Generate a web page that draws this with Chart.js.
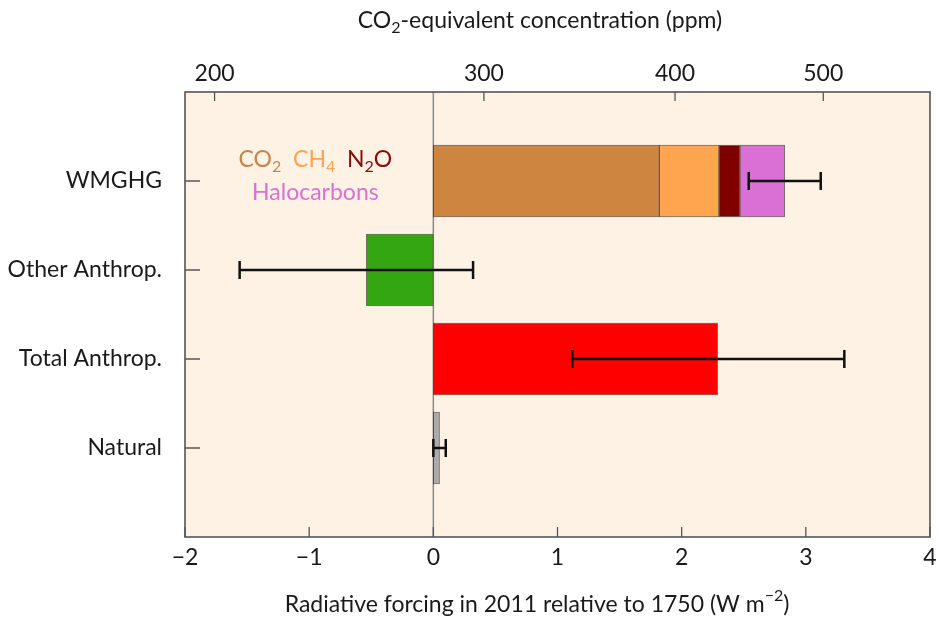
<!DOCTYPE html>
<html>
<head>
<meta charset="utf-8">
<title>Radiative forcing 2011</title>
<script src="https://cdn.jsdelivr.net/npm/chart.js@4.4.1/dist/chart.umd.min.js"></script>
<style>
  html, body { margin: 0; padding: 0; background: #ffffff; }
  #wrap { width: 938px; height: 622px; }
</style>
</head>
<body>
<div id="wrap"><canvas id="rfChart"></canvas></div>
<script>
// ---- data ---------------------------------------------------
const CATEGORIES = ["WMGHG", "Other Anthrop.", "Total Anthrop.", "Natural"];
const CAT_POS    = [1, 2, 3, 4];

// WMGHG stacked components (W m-2)
const GHG_NAMES  = ["CO2", "CH4", "N2O", "Halocarbons"];
const GHG_VALUES = [1.82, 0.48, 0.17, 0.36];
const GHG_COLORS = ["#CD853F", "#FFA54F", "#800000", "#DA70D6"];

// single bars: Other Anthrop., Total Anthrop., Natural
const SINGLE_VALUES = [-0.54, 2.29, 0.05];
const SINGLE_COLORS = ["#33A612", "#FF0000", "#ABABAB"];

// uncertainty ranges, one per category
const ERR_LOW  = [2.54, -1.56, 1.12, 0.00];
const ERR_HIGH = [3.12,  0.32, 3.31, 0.10];

// axes
const X_TICKS   = [-2, -1, 0, 1, 2, 3, 4];
const PPM_TICKS = [200, 300, 400, 500];
const PPM_REF   = 278;   // 1750 CO2-eq reference

const FONT = 'Lato, "Open Sans", sans-serif';
const INK  = "#1a1a1a";
const FS   = 23;

// forcing (W m-2) for a CO2-eq concentration, used to place the top ticks
const ppmToForcing = c => 5.35 * Math.log(c / PPM_REF);
const fmtMinus = v => (v < 0 ? "\u2212" + Math.abs(v) : String(v));

// ---- datasets -----------------------------------------------
const datasets = [];
GHG_NAMES.forEach((name, i) => {
  datasets.push({
    label: name,
    data: [{ y: CAT_POS[0], x: GHG_VALUES[i] }],
    backgroundColor: GHG_COLORS[i],
  });
});
SINGLE_VALUES.forEach((v, i) => {
  datasets.push({
    label: CATEGORIES[i + 1],
    data: [{ y: CAT_POS[i + 1], x: v }],
    backgroundColor: SINGLE_COLORS[i],
  });
});
datasets.forEach(d => {
  d.grouped       = false;
  d.barThickness  = 72;
  d.borderWidth   = 1;
  d.borderColor   = "rgba(50,40,30,0.65)";
  d.borderSkipped = false;
});

// ---- drawing helpers ----------------------------------------
// parts: [{t, color, sub, sup}]
function richWidth(ctx, parts, size) {
  let w = 0;
  parts.forEach(p => {
    ctx.font = `${p.sub || p.sup ? Math.round(size * 0.7) : size}px ${FONT}`;
    w += ctx.measureText(p.t).width;
  });
  return w;
}

function drawRich(ctx, parts, x, y, size, align) {
  const w = richWidth(ctx, parts, size);
  let cx = align === "center" ? x - w / 2 : x;
  ctx.textAlign = "left";
  ctx.textBaseline = "middle";
  parts.forEach(p => {
    const small = p.sub || p.sup;
    ctx.font = `${small ? Math.round(size * 0.7) : size}px ${FONT}`;
    ctx.fillStyle = p.color || INK;
    const dy = p.sub ? size * 0.3 : p.sup ? -size * 0.38 : 0;
    ctx.fillText(p.t, cx, y + dy);
    cx += ctx.measureText(p.t).width;
  });
}

const framePlugin = {
  id: "frame",
  beforeDraw(chart) {
    const { ctx, chartArea: a } = chart;
    ctx.save();
    ctx.fillStyle = "#FDF2E4";
    ctx.fillRect(a.left, a.top, a.right - a.left, a.bottom - a.top);
    ctx.restore();
  },
  beforeDatasetsDraw(chart) {
    const { ctx, chartArea: a, scales } = chart;
    const x0 = scales.x.getPixelForValue(0);
    ctx.save();
    ctx.strokeStyle = "#8a8a8a";
    ctx.lineWidth = 1.5;
    ctx.beginPath();
    ctx.moveTo(x0, a.top);
    ctx.lineTo(x0, a.bottom);
    ctx.stroke();
    ctx.restore();
  },
  afterDatasetsDraw(chart) {
    const { ctx, chartArea: a, scales } = chart;
    const xs = scales.x, ys = scales.y, xt = scales.x2;
    ctx.save();

    // error bars
    ctx.strokeStyle = "#111111";
    ctx.lineWidth = 2.5;
    CAT_POS.forEach((p, i) => {
      const y  = ys.getPixelForValue(p);
      const x1 = xs.getPixelForValue(ERR_LOW[i]);
      const x2 = xs.getPixelForValue(ERR_HIGH[i]);
      ctx.beginPath();
      ctx.moveTo(x1, y); ctx.lineTo(x2, y);
      ctx.moveTo(x1, y - 9); ctx.lineTo(x1, y + 9);
      ctx.moveTo(x2, y - 9); ctx.lineTo(x2, y + 9);
      ctx.stroke();
    });

    // plot frame
    ctx.strokeStyle = "#555555";
    ctx.lineWidth = 1.6;
    ctx.strokeRect(a.left, a.top, a.right - a.left, a.bottom - a.top);

    // inward tick marks
    ctx.lineWidth = 1.3;
    ctx.beginPath();
    CAT_POS.forEach(p => {
      const y = ys.getPixelForValue(p);
      ctx.moveTo(a.left, y); ctx.lineTo(a.left + 15, y);
    });
    X_TICKS.forEach(v => {
      const x = xs.getPixelForValue(v);
      ctx.moveTo(x, a.bottom); ctx.lineTo(x, a.bottom - 10);
    });
    PPM_TICKS.forEach(c => {
      const x = xt.getPixelForValue(ppmToForcing(c));
      ctx.moveTo(x, a.top); ctx.lineTo(x, a.top + 9);
    });
    ctx.stroke();

    // in-plot legend for the WMGHG components
    const lx = xs.getPixelForValue(-0.95);
    drawRich(ctx, [
      { t: "CO", color: "#C8844A" }, { t: "2", color: "#C8844A", sub: true },
      { t: "  CH", color: "#FFA54F" }, { t: "4", color: "#FFA54F", sub: true },
      { t: "  N", color: "#8B0A0A" }, { t: "2", color: "#8B0A0A", sub: true },
      { t: "O", color: "#8B0A0A" },
    ], lx, ys.getPixelForValue(0.76), FS, "center");
    drawRich(ctx, [{ t: "Halocarbons", color: "#DA70D6" }],
      lx, ys.getPixelForValue(1.13), FS, "center");

    // axis titles
    drawRich(ctx, [
      { t: "CO" }, { t: "2", sub: true }, { t: "-equivalent concentration (ppm)" },
    ], 540, 21, FS, "center");
    drawRich(ctx, [
      { t: "Radiative forcing in 2011 relative to 1750 (W m" },
      { t: "\u22122", sup: true }, { t: ")" },
    ], 537, 605, FS, "center");

    ctx.restore();
  },
};

// ---- chart --------------------------------------------------
new Chart(document.getElementById("rfChart"), {
  type: "bar",
  data: { datasets },
  options: {
    indexAxis: "y",
    responsive: true,
    maintainAspectRatio: false,
    animation: false,
    layout: { padding: { left: 0, right: 8, top: 0, bottom: 0 } },
    plugins: {
      legend:  { display: false },
      tooltip: { enabled: false },
    },
    scales: {
      x: {
        type: "linear",
        position: "bottom",
        min: -2, max: 4,
        stacked: true,
        grid:   { display: false, drawTicks: false },
        border: { display: false },
        afterBuildTicks: s => { s.ticks = X_TICKS.map(v => ({ value: v })); },
        afterFit: s => { s.height = 85; s.paddingLeft = 0; s.paddingRight = 0; },
        ticks: {
          autoSkip: false, maxRotation: 0, padding: 7,
          color: INK, font: { family: FONT, size: FS },
          callback: v => fmtMinus(v),
        },
      },
      x2: {
        type: "linear",
        position: "top",
        min: -2, max: 4,
        grid:   { display: false, drawTicks: false },
        border: { display: false },
        afterBuildTicks: s => {
          s.ticks = PPM_TICKS.map(c => ({ value: ppmToForcing(c) }));
        },
        afterFit: s => { s.height = 92; s.paddingLeft = 0; s.paddingRight = 0; },
        ticks: {
          autoSkip: false, maxRotation: 0, padding: 5,
          color: INK, font: { family: FONT, size: FS },
          callback: (v, i) => String(PPM_TICKS[i]),
        },
      },
      y: {
        type: "linear",
        min: 0, max: 5,
        reverse: true,
        offset: false,
        stacked: true,
        grid:   { display: false, drawTicks: false },
        border: { display: false },
        afterBuildTicks: s => { s.ticks = CAT_POS.map(v => ({ value: v })); },
        afterFit: s => { s.width = 185; },
        ticks: {
          autoSkip: false, padding: 23,
          color: INK, font: { family: FONT, size: FS },
          callback: (v, i) => CATEGORIES[i],
        },
      },
    },
  },
  plugins: [framePlugin],
});
</script>
</body>
</html>
